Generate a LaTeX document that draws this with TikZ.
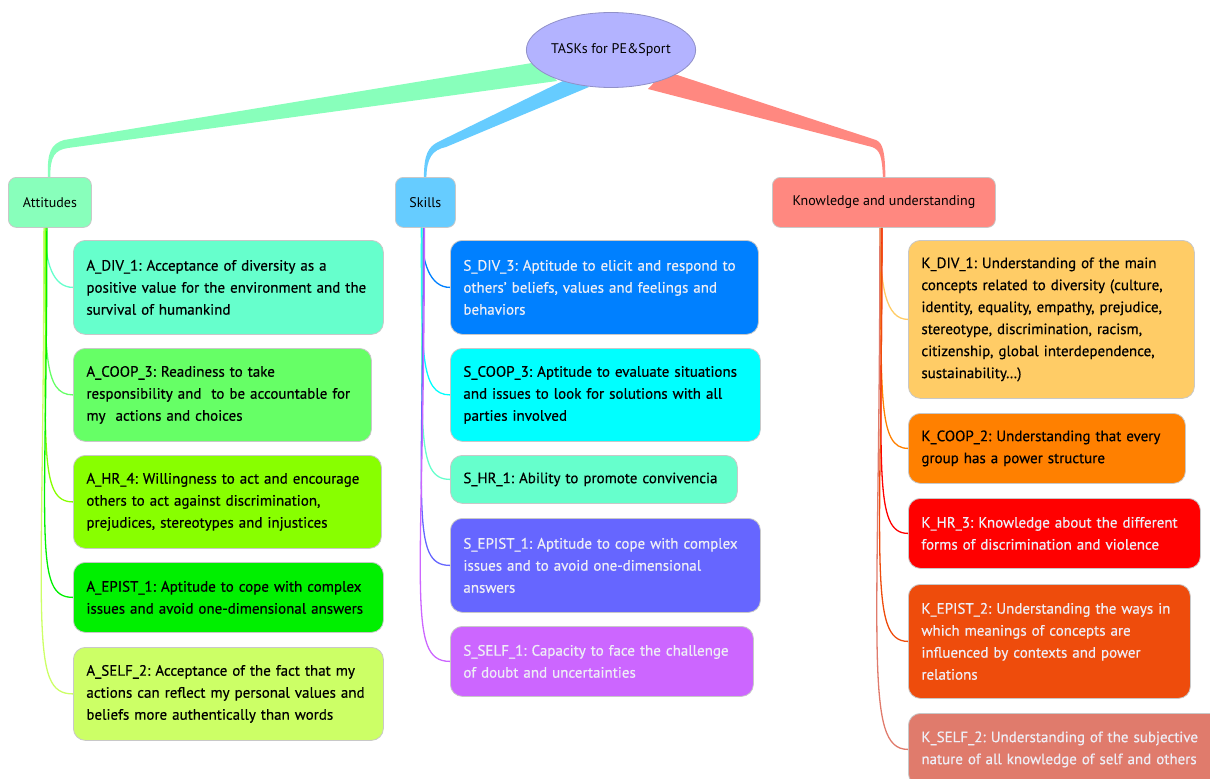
\documentclass[tikz,border=0pt]{standalone}
\usepackage{fontspec}
\setmainfont{PT Sans}
\newfontfamily\boxfont{PT Sans}[FakeBold=0.45]
\usetikzlibrary{shapes.geometric}
\definecolor{cRoot}{HTML}{B3B3FF}
\definecolor{cRootLine}{HTML}{9090C8}
\definecolor{cAtt}{HTML}{88FFBB}
\definecolor{cSk}{HTML}{66CCFF}
\definecolor{cKn}{HTML}{FF8880}
\definecolor{cADiv}{HTML}{66FFCC}
\definecolor{cACoop}{HTML}{66FF66}
\definecolor{cAHr}{HTML}{88FF00}
\definecolor{cAEpist}{HTML}{00F000}
\definecolor{cASelf}{HTML}{CCFF66}
\definecolor{cSDiv}{HTML}{0080FF}
\definecolor{cSCoop}{HTML}{00FFFF}
\definecolor{cSHr}{HTML}{66FFCC}
\definecolor{cSEpist}{HTML}{6666FF}
\definecolor{cSSelf}{HTML}{CC66FF}
\definecolor{cKDiv}{HTML}{FFCC66}
\definecolor{cKCoop}{HTML}{FF8000}
\definecolor{cKHr}{HTML}{FF0000}
\definecolor{cKEpist}{HTML}{EE4C0C}
\definecolor{cKSelf}{HTML}{E07B6C}
\definecolor{boxline}{HTML}{C8C8C8}
\definecolor{lighttext}{HTML}{EEEEF6}
\newcommand{\xline}[1]{\mbox{#1}}
\tikzset{
  box/.style={draw=boxline, line width=0.8pt, rounded corners=12pt, anchor=north west,
    align=left, inner xsep=13pt, inner ysep=2pt, text=black,
    font=\boxfont\frenchspacing\fontsize{15}{22}\selectfont},
  catbox/.style={draw=boxline, line width=0.8pt, rounded corners=8pt, anchor=north west,
    align=center, inner sep=0pt, minimum height=50pt, text=black,
    font=\fontsize{14}{16}\selectfont},
  lt/.style={text=lighttext},
  conn/.style={line width=1.3pt},
}
\begin{document}
\begin{tikzpicture}[x=1pt,y=-1pt]
\useasboundingbox (0,0) rectangle (1210,779);

% category boxes
\node[catbox, fill=cAtt, minimum width=83pt] (att) at (8,177) {Attitudes};
\node[catbox, fill=cSk, minimum width=60pt] (sk) at (395,177) {Skills};
\node[catbox, fill=cKn, minimum width=223pt] (kn) at (772,177) {Knowledge and understanding};

% tapered branches
\fill[cAtt] (538,62) -- (64,140) .. controls (51,144) and (47,152) .. ([xshift=-2pt]att.north)
  -- ([xshift=0.5pt]att.north) .. controls (50,156) and (55,150) .. (68,148) -- (557,81) -- cycle;
\fill[cSk] (571,77) -- (438,142) .. controls (428,147) and (424,155) .. ([xshift=-1.5pt]sk.north)
  -- ([xshift=1pt]sk.north) .. controls (427,158) and (432,150) .. (446,147) -- (589,87) -- cycle;
\fill[cKn] (665,71) -- (876,140) .. controls (883,143) and (885,152) .. ([xshift=1.5pt]kn.north)
  -- ([xshift=-1pt]kn.north) .. controls (882,156) and (880,150) .. (872,147) -- (648,89) -- cycle;

% root
\node[ellipse, fill=cRoot, draw=cRootLine, line width=0.8pt, minimum width=162pt, minimum height=75pt,
  inner sep=0pt, font=\fontsize{14}{16}\selectfont] (root) at (611,50) {TASKs for PE\&Sport};

% Attitudes children
\node[box, fill=cADiv, text width=284pt, minimum height=94pt] (adiv) at (73,240)
  {\xline{A\_DIV\_1: Acceptance of diversity as a}\\\xline{positive value for the environment and the}\\\xline{survival of humankind}};
\node[box, fill=cACoop, text width=272pt, minimum height=93pt] (acoop) at (73,348)
  {\xline{A\_COOP\_3: Readiness to take}\\\xline{responsibility and~ to be accountable for}\\\xline{my~ actions and choices}};
\node[box, fill=cAHr, text width=282pt, minimum height=93pt] (ahr) at (73,455)
  {\xline{A\_HR\_4: Willingness to act and encourage}\\\xline{others to act against discrimination,}\\\xline{prejudices, stereotypes and injustices}};
\node[box, fill=cAEpist, text width=284pt, minimum height=70pt] (aepist) at (73,562)
  {\xline{A\_EPIST\_1: Aptitude to cope with complex}\\\xline{issues and avoid one-dimensional answers}};
\node[box, fill=cASelf, text width=284pt, minimum height=93pt] (aself) at (73,647)
  {\xline{A\_SELF\_2: Acceptance of the fact that my}\\\xline{actions can reflect my personal values and}\\\xline{beliefs more authentically than words}};

% Skills children
\node[box, fill=cSDiv, lt, text width=282pt, minimum height=94pt] (sdiv) at (450,240)
  {\xline{S\_DIV\_3: Aptitude to elicit and respond to}\\\xline{others’ beliefs, values and feelings and}\\\xline{behaviors}};
\node[box, fill=cSCoop, text width=284pt, minimum height=93pt] (scoop) at (450,348)
  {\xline{S\_COOP\_3: Aptitude to evaluate situations}\\\xline{and issues to look for solutions with all}\\\xline{parties involved}};
\node[box, fill=cSHr, text width=261pt, minimum height=48pt] (shr) at (450,455)
  {\xline{S\_HR\_1: Ability to promote convivencia}};
\node[box, fill=cSEpist, lt, text width=284pt, minimum height=94pt] (sepist) at (450,518)
  {\xline{S\_EPIST\_1: Aptitude to cope with complex}\\\xline{issues and to avoid one-dimensional}\\\xline{answers}};
\node[box, fill=cSSelf, lt, text width=277pt, minimum height=70pt] (sself) at (450,626)
  {\xline{S\_SELF\_1: Capacity to face the challenge}\\\xline{of doubt and uncertainties}};

% Knowledge children
\node[box, fill=cKDiv, text width=260pt, minimum height=158pt] (kdiv) at (908,240)
  {\xline{K\_DIV\_1: Understanding of the main}\\\xline{concepts related to diversity (culture,}\\\xline{identity, equality, empathy, prejudice,}\\\xline{stereotype, discrimination, racism,}\\\xline{citizenship, global interdependence,}\\\xline{sustainability…)}};
\node[box, fill=cKCoop, text width=251pt, minimum height=70pt] (kcoop) at (908,413)
  {\xline{K\_COOP\_2: Understanding that every}\\\xline{group has a power structure}};
\node[box, fill=cKHr, lt, text width=266pt, minimum height=70pt] (khr) at (908,498)
  {\xline{K\_HR\_3: Knowledge about the different}\\\xline{forms of discrimination and violence}};
\node[box, fill=cKEpist, lt, text width=256pt, minimum height=114pt] (kepist) at (908,584)
  {\xline{K\_EPIST\_2: Understanding the ways in}\\\xline{which meanings of concepts are}\\\xline{influenced by contexts and power}\\\xline{relations}};
\node[box, fill=cKSelf, lt, text width=290pt, minimum height=72pt] (kself) at (908,713)
  {\xline{K\_SELF\_2: Understanding of the subjective}\\\xline{nature of all knowledge of self and others}};

% connectors Attitudes
\draw[conn, cADiv] ([xshift=-5pt]att.south) to[out=-90,in=180,out distance=35pt,in distance=20pt] (adiv.west);
\draw[conn, cACoop] ([xshift=-5pt]att.south) to[out=-90,in=180,out distance=125pt,in distance=30pt] (acoop.west);
\draw[conn, cAHr] ([xshift=-4pt]att.south) to[out=-90,in=180,out distance=220pt,in distance=35pt] (ahr.west);
\draw[conn, cAEpist] ([xshift=-3pt]att.south) to[out=-90,in=180,out distance=310pt,in distance=40pt] (aepist.west);
\draw[conn, cASelf] ([xshift=-6pt]att.south) to[out=-90,in=180,out distance=400pt,in distance=45pt] (aself.west);

% connectors Skills
\draw[conn, cSDiv] ([xshift=-4pt]sk.south) to[out=-90,in=180,out distance=35pt,in distance=20pt] (sdiv.west);
\draw[conn, cSCoop] ([xshift=-4pt]sk.south) to[out=-90,in=180,out distance=125pt,in distance=30pt] (scoop.west);
\draw[conn, cSHr] ([xshift=-3pt]sk.south) to[out=-90,in=180,out distance=200pt,in distance=35pt] (shr.west);
\draw[conn, cSEpist] ([xshift=-2pt]sk.south) to[out=-90,in=180,out distance=280pt,in distance=40pt] (sepist.west);
\draw[conn, cSSelf] ([xshift=-1pt]sk.south) to[out=-90,in=180,out distance=360pt,in distance=45pt] (sself.west);

% connectors Knowledge
\draw[conn, cKDiv] ([xshift=-4pt]kn.south) to[out=-90,in=180,out distance=60pt,in distance=22pt] (kdiv.west);
\draw[conn, cKCoop] ([xshift=-3pt]kn.south) to[out=-90,in=180,out distance=170pt,in distance=30pt] (kcoop.west);
\draw[conn, cKHr] ([xshift=-2pt]kn.south) to[out=-90,in=180,out distance=240pt,in distance=35pt] (khr.west);
\draw[conn, cKEpist] ([xshift=-2pt]kn.south) to[out=-90,in=180,out distance=330pt,in distance=40pt] (kepist.west);
\draw[conn, cKSelf] ([xshift=-4pt]kn.south) to[out=-90,in=180,out distance=420pt,in distance=45pt] (kself.west);
\end{tikzpicture}
\end{document}
